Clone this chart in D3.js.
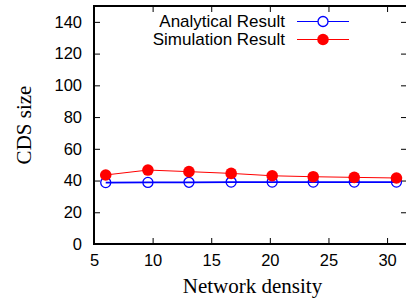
<!DOCTYPE html>
<html><head><meta charset="utf-8">
<script src="https://cdn.jsdelivr.net/npm/d3@7"></script>
<style>body{margin:0;background:#fff;} svg{display:block;}</style>
</head><body>
<script>
const density = [6.0, 9.6, 13.1, 16.7, 20.2, 23.7, 27.2, 30.8];
const analytical = [38.7, 38.8, 38.9, 39.0, 39.0, 39.0, 39.0, 39.0];
const simulation = [43.5, 46.6, 45.6, 44.5, 43.0, 42.4, 42.0, 41.6];
const xTicks = [5, 10, 15, 20, 25, 30];
const yTicks = [0, 20, 40, 60, 80, 100, 120, 140];
const seriesNames = ["Analytical Result", "Simulation Result"];

const W = 406, H = 301;
const L = 94, R = 407, T = 6, B = 244;
const svg = d3.select("body").append("svg").attr("width", W).attr("height", H);
const x = d3.scaleLinear().domain([5, 31.7]).range([L, R]);
const y = d3.scaleLinear().domain([0, 150]).range([B, T]);
const sans = "'Liberation Sans', Arial, sans-serif";
const serif = "'Liberation Serif', 'Times New Roman', serif";

// ticks (inward on all sides)
const tk = 6;
const axB = svg.append("g").attr("transform", `translate(0,${B})`)
  .call(d3.axisBottom(x).tickValues(xTicks).tickSize(-tk).tickPadding(10));
const axT = svg.append("g").attr("transform", `translate(0,${T})`)
  .call(d3.axisTop(x).tickValues(xTicks).tickSize(-tk).tickFormat(""));
const axL = svg.append("g").attr("transform", `translate(${L},0)`)
  .call(d3.axisLeft(y).tickValues(yTicks).tickSize(-tk).tickPadding(12));
const axR = svg.append("g").attr("transform", `translate(${R},0)`)
  .call(d3.axisRight(y).tickValues(yTicks).tickSize(-tk).tickFormat(""));
[axB, axT, axL, axR].forEach(g => {
  g.select(".domain").remove();
  g.selectAll(".tick line").attr("stroke", "#000").attr("stroke-width", 1);
  g.selectAll("text").attr("font-family", sans).attr("font-size", 16.5).attr("fill", "#000");
});
axB.selectAll("text").attr("dy", "0.71em");

// frame
svg.append("rect").attr("x", L).attr("y", T).attr("width", R - L).attr("height", B - T)
  .attr("fill", "none").attr("stroke", "#000").attr("stroke-width", 2);

const line = d3.line().x(d => x(d[0])).y(d => y(d[1]));
const aData = density.map((d, i) => [d, analytical[i]]);
const sData = density.map((d, i) => [d, simulation[i]]);

svg.append("path").datum(aData).attr("d", line).attr("fill", "none").attr("stroke", "#0000ff").attr("stroke-width", 1.8);
svg.append("path").datum(sData).attr("d", line).attr("fill", "none").attr("stroke", "#ff0000").attr("stroke-width", 1);

svg.selectAll(".am").data(aData).enter().append("circle")
  .attr("cx", d => x(d[0])).attr("cy", d => y(d[1])).attr("r", 5)
  .attr("fill", "none").attr("stroke", "#0000ff").attr("stroke-width", 1.3);
svg.selectAll(".sm").data(sData).enter().append("circle")
  .attr("cx", d => x(d[0])).attr("cy", d => y(d[1])).attr("r", 5.8)
  .attr("fill", "#ff0000");

// legend
const legY = [21.5, 39.5];
const colors = ["#0000ff", "#ff0000"];
seriesNames.forEach((name, i) => {
  svg.append("text").attr("x", 285).attr("y", legY[i]).attr("dy", "0.35em")
    .attr("text-anchor", "end").attr("font-family", sans).attr("font-size", 17)
    .attr("fill", "#000").text(name);
  svg.append("line").attr("x1", 297).attr("x2", 349).attr("y1", legY[i]).attr("y2", legY[i])
    .attr("stroke", colors[i]).attr("stroke-width", 1);
  const c = svg.append("circle").attr("cx", 323).attr("cy", legY[i]);
  if (i === 0) c.attr("r", 5).attr("fill", "#fff").attr("stroke", colors[i]).attr("stroke-width", 1.3);
  else c.attr("r", 5.8).attr("fill", colors[i]);
});

// axis titles
svg.append("text").attr("x", (L + R) / 2 + 2).attr("y", 293).attr("text-anchor", "middle")
  .attr("font-family", serif).attr("font-size", 21).attr("fill", "#000").text("Network density");
svg.append("text").attr("transform", `translate(31,125) rotate(-90)`).attr("text-anchor", "middle")
  .attr("font-family", serif).attr("font-size", 21).attr("fill", "#000").text("CDS size");
</script>
</body></html>
